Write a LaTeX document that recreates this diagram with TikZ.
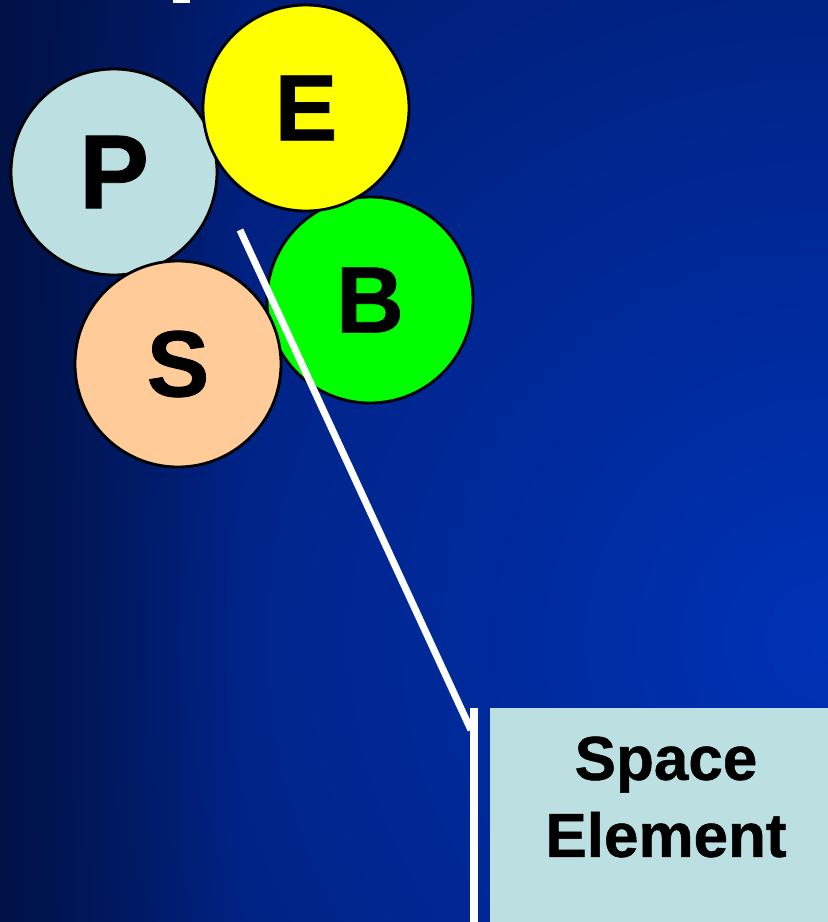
\documentclass[tikz,border=0pt]{standalone}
\usepackage{fontspec}
\setmainfont{Liberation Sans}[BoldFeatures={FakeBold=0.8}]
\usetikzlibrary{fadings}
\definecolor{bgdark}{HTML}{001A6A}
\definecolor{bgedge}{HTML}{001246}
\definecolor{bglight}{HTML}{0032B6}
\definecolor{pcol}{HTML}{BCE0E2}
\definecolor{ecol}{HTML}{FFFF00}
\definecolor{bcol}{HTML}{00FF00}
\definecolor{scol}{HTML}{FFCC99}
\begin{document}
\begin{tikzpicture}[x=1pt,y=-1pt,
  ball/.style={circle, draw=black, line width=2.8pt, minimum size=206pt, inner sep=0pt,
    font=\fontsize{94}{94}\selectfont\bfseries},
  wire/.style={draw=white, line width=7pt},
  sebox/.style={rectangle, fill=pcol, minimum width=338pt, minimum height=214pt, inner sep=0pt,
    anchor=north west},
  setext/.style={font=\fontsize{62}{77}\selectfont\bfseries, align=center, text=black}]
\useasboundingbox (0,0) rectangle (828,922);
\begin{scope}
  \clip (0,0) rectangle (828,922);
  \fill[bgdark] (0,0) rectangle (828,922);
  \shade[inner color=bglight, outer color=bgdark] (828,640) circle (1000pt);
  \fill[bgedge, path fading=east] (0,0) rectangle (240,922);
\end{scope}
\fill[white] (173,0) rectangle (190,3);
\node[ball, fill=pcol, font=\fontsize{105}{105}\selectfont\bfseries] (P) at (114,172) {P};
\node[ball, fill=bcol] (B) at (370,300) {B};
\node[ball, fill=ecol] (E) at (306,108) {E};
\node[ball, fill=scol] (S) at (178,364) {S};
\node[sebox] (SE) at (490,708) {};
\node[setext] (SEt) at (666,797) {Space\\Element};
\coordinate (start) at (240,230);
\coordinate (bend) at (471,730);
\coordinate (bartop) at ([xshift=-16pt]SE.north west);
\coordinate (barbot) at ([xshift=-16pt]SE.south west);
\draw[wire] (start) -- (bend);
\draw[draw=white, line width=8pt] (bartop) -- (barbot);
\end{tikzpicture}
\end{document}
